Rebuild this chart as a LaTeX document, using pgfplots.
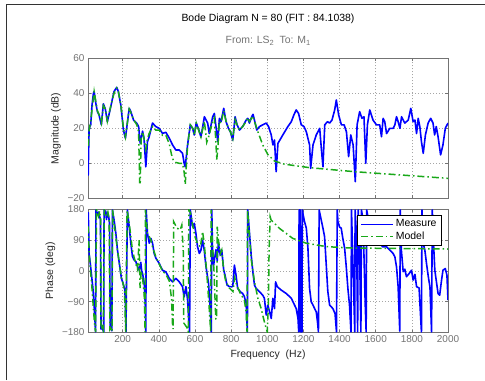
\documentclass[border=0pt]{standalone}
\usepackage{pgfplots}
\pgfplotsset{compat=1.18}
\usepackage{fontspec}
\setmainfont{Liberation Sans}
\definecolor{mblue}{rgb}{0,0,1}
\definecolor{mgreen}{rgb}{0.1,0.66,0.1}
\definecolor{axgray}{rgb}{0.45,0.45,0.45}

\pgfplotstableread{
f m
9 -7
11 5
14 19
18 21
23 22
30 33
38 40
42 41
50 35
60 29.5
69 27.6
82 22
93 34
104 31
115 23.8
130 30.5
152 41
167 43.4
176 41
190 33
204 19
215 14.3
236 31.4
245 29.5
260 24.7
278 22.9
288 21
297 11.4
310 18.4
318 14.3
328 -2
337 12.4
346 15
365 23
383 21
402 20
420 17.1
439 17.7
458 14.3
476 10.5
494 7.6
513 7.6
531 5.7
540 0
546 -2
559 10.5
574 22
587 20
596 16.2
607 23
620 19.5
633 15
652 26.6
670 23
679 17
698 26.6
707 28.5
716 21
726 12.4
735 25.7
744 23.8
759 31.4
772 23.8
785 20
796 18
809 13.3
822 26.6
833 22
846 19
864 21
883 24.7
892 25.7
901 23
914 26.6
921 28
929 24.7
942 19
957 21
975 22
994 23
1007 21
1022 16.2
1031 10.5
1040 13.3
1049 -4.8
1059 11.4
1086 16.2
1114 21
1133 23.8
1147 27.6
1160 30.5
1173 28.5
1188 22
1203 21
1216 18
1234 10.5
1240 -2.9
1253 10.5
1271 16.2
1290 20
1299 8.6
1308 -2
1318 22
1333 23.8
1345 23
1358 24.7
1373 30.5
1382 36.2
1395 27.6
1410 22
1425 22
1438 18
1450 3.8
1462 16.2
1475 10.5
1487 -10.5
1497 22
1511 29.5
1524 25.7
1535 26.6
1545 0
1554 22
1567 30.5
1585 24.7
1604 22
1622 22
1632 15.2
1641 25.7
1650 23.8
1660 17
1678 20
1697 20
1706 22
1715 26.6
1724 23.8
1734 20
1743 26.6
1752 24.7
1761 23
1780 24.7
1794 31.4
1807 23.8
1817 24.7
1826 17
1835 25.7
1844 21
1853 12.4
1863 5.7
1875 16.2
1890 23
1904 25.7
1917 23
1926 16.2
1935 21
1945 15.2
1959 4.8
1972 10.5
1985 20
2000 23
}\magmeas

\pgfplotstableread{
f m
10 10
14 19
23 24
42 41
60 30
69 28
82 23
93 33
104 31
115 24
130 31
152 40
167 43
176 41
190 33
204 20
215 15
236 31
245 29
260 25
278 22
288 18
294 -11
297 -11
302 14
310 18
318 14
328 8
337 14
346 17
365 21
383 19
402 19
420 16
439 16
458 11
470 5
481 1.5
494 0.5
513 0
531 0
540 -5
546 -12
550 -5
559 10
574 22
587 20
596 16
607 23
620 19
633 15
652 24
665 12
675 15
698 24
707 26
716 12
720 2
726 8
735 24
744 23
759 30
772 24
785 20
796 18
809 14
822 25
833 22
846 19
864 21
883 24
892 26
901 24
914 26
921 27
929 24
948 18
975 10.5
1003 5
1040 1.3
1095 -0.5
1234 -2.5
1484 -4.8
2000 -8.6
}\magmod

\pgfplotstableread{
f p
9 172
11 140
14 50
20 25
27 -10
35 -50
42 -100
48 -160
50 -178
52 178
58 165
65 172
72 160
77 150
80 -170
85 -160
90 -172
95 -178
97 178
102 165
106 175
110 150
116 170
122 160
127 140
131 -170
135 -165
140 -175
143 178
152 150
162 110
171 61
184 12
193 -22
202 -36
212 -55
216 -120
218 -178
226 178
236 129
245 81
254 42
263 32
273 27
282 12
291 2
300 25
305 0
310 -8
319 -36
325 -100
328 -178
330 178
337 110
347 81
356 95
365 81
374 51
384 37
402 22
420 2
439 -3
458 -22
476 -32
494 -22
513 -32
531 -46
540 -76
550 -46
559 -85
565 -140
570 -178
574 178
587 129
596 139
605 110
614 71
624 51
633 61
642 90
651 61
661 12
675 -36
685 -120
690 -178
693 178
697 60
703 17
716 62
723 30
729 81
740 46
748 61
759 2
766 -12
777 -41
790 -46
809 -46
818 17
827 -12
836 -51
851 -61
864 -66
873 -75
883 -95
887 -150
890 -178
892 178
901 114
911 46
920 -2
929 -41
938 -51
957 -61
975 -71
984 -80
994 -129
1003 -100
1013 -120
1022 -139
1031 -80
1040 -110
1046 -32
1055 -46
1077 -56
1105 -66
1133 -80
1151 -100
1160 -110
1170 -139
1174 -178
1176 178
1183 178
1185 -178
1192 -178
1194 178
1200 160
1206 144
1216 125
1225 66
1234 -51
1243 -90
1253 -100
1262 -110
1271 -120
1278 -150
1283 -178
1287 178
1298 150
1308 125
1317 100
1326 20
1335 -60
1345 -100
1363 -110
1375 -125
1383 -178
1387 178
1391 144
1400 128
1409 125
1418 95
1428 66
1437 12
1446 -51
1455 -100
1463 -178
1466 178
1472 60
1480 -100
1484 -178
1486 178
1494 100
1500 -178
1503 178
1510 80
1518 -178
1521 178
1530 150
1542 -100
1547 -178
1550 178
1560 150
1580 130
1600 100
1620 80
1640 70
1659 71
1696 51
1706 41
1715 12
1724 -46
1733 -176
1736 178
1742 60
1752 -2
1761 5
1770 -17
1789 -5
1798 2
1807 -27
1817 -10
1826 -46
1840 -50
1850 -150
1853 -178
1856 178
1863 81
1872 60
1881 22
1891 -17
1900 -46
1909 -178
1913 178
1920 80
1927 2
1937 -36
1945 -66
1954 -71
1963 -32
1972 2
1985 7
1994 -12
2000 -85
}\phmeas

\pgfplotstableread{
f p
9 130
12 80
16 40
22 0
30 -50
38 -110
45 -160
50 -178
55 178
60 170
66 160
72 175
78 150
80 -170
86 -165
93 -175
98 178
104 170
110 160
118 172
125 150
129 -172
135 -168
141 -178
144 178
152 140
162 100
171 61
184 12
193 -22
202 -36
210 -60
214 -140
217 -178
224 178
236 140
245 100
254 60
263 40
273 20
282 5
291 90
296 -50
302 0
310 -20
319 -70
324 -178
326 178
337 110
347 100
356 90
365 70
384 40
402 20
420 0
439 -10
458 -30
470 -80
476 -160
479 -170
482 144
500 125
518 120
527 134
535 60
538 -152
548 -160
555 -165
563 -178
566 178
575 170
587 135
600 100
614 80
630 70
642 115
651 80
661 20
670 -40
680 -120
687 -178
689 178
695 100
705 0
715 -140
720 -140
723 129
730 90
740 50
748 61
759 0
770 -30
790 -50
810 -60
820 -20
830 -40
850 -65
873 -85
883 -120
888 -178
891 178
901 105
911 35
929 -31
948 -80
966 -110
984 -149
994 -168
1000 -178
1006 -100
1010 60
1016 158
1021 149
1068 124
1141 95
1215 81
1326 71
1456 67
2000 64
}\phmod

\pgfplotsset{
  bode/.style={
    scale only axis, width=360bp,
    xmin=8, xmax=2000,
    xtick={200,400,...,2000},
    axis line style={axgray, line width=0.8bp},
    tick style={axgray, line width=0.6bp},
    major tick length=3bp,
    grid=major,
    major grid style={gray!70, line width=0.5bp, dash pattern=on 0.8bp off 2.2bp},
    ticklabel style={font=\fontsize{10}{12}\selectfont, text=axgray},
    label style={font=\fontsize{10.5}{12}\selectfont, text=black!85},
    /pgf/number format/assume math mode=true,
    clip=true,
  },
  meas/.style={mblue, line width=1.6bp, line join=round},
  modl/.style={mgreen, line width=1.5bp, dash pattern=on 7bp off 3bp on 1.5bp off 3bp},
}

\begin{document}
\begin{tikzpicture}[x=1bp,y=1bp]
\useasboundingbox (0,0) rectangle (485,380);
\draw[line width=1bp, black!80] (6.5,0) -- (6.5,375) -- (485,375);
\node[font=\fontsize{10.5}{12}\selectfont] at (268,361) {Bode Diagram N = 80 (FIT : 84.1038)};
\node[font=\fontsize{10.5}{12}\selectfont, text=axgray] at (268,339) {From: LS\raisebox{-0.45ex}{\fontsize{7.5}{8}\selectfont 2}\ \ To: M\raisebox{-0.45ex}{\fontsize{7.5}{8}\selectfont 1}};

\begin{axis}[bode, at={(88bp,181.7bp)}, anchor=south west, height=140bp,
  ymin=-20, ymax=60, ytick={-20,0,20,40,60},
  yticklabels={−20,0,20,40,60}, xticklabels={},
  ylabel={Magnitude (dB)}]
\addplot[meas] table[x=f,y=m]{\magmeas};
\addplot[modl] table[x=f,y=m]{\magmod};
\end{axis}

\begin{axis}[bode, at={(88bp,47.5bp)}, anchor=south west, height=123.2bp,
  ymin=-180, ymax=180, ytick={-180,-90,0,90,180},
  yticklabels={−180,−90,0,90,180},
  xticklabels={200,400,600,800,1000,1200,1400,1600,1800,2000},
  xlabel={Frequency\ \ (Hz)}, ylabel={Phase (deg)},
  legend style={at={(rel axis cs:1,1)}, anchor=north east, xshift=-6bp, yshift=-5.5bp,
    draw=black, line width=0.9bp, fill=white, font=\fontsize{10.5}{12}\selectfont,
    inner xsep=3bp, inner ysep=2.5bp, row sep=-0.5bp, cells={anchor=west}},
  legend image code/.code={\draw[#1, line width=1bp] (0bp,0bp) -- (32bp,0bp);}]
\addplot[meas] table[x=f,y=p]{\phmeas};
\addlegendentry{Measure}
\addplot[modl] table[x=f,y=p]{\phmod};
\addlegendentry{Model}
\end{axis}
\end{tikzpicture}
\end{document}
